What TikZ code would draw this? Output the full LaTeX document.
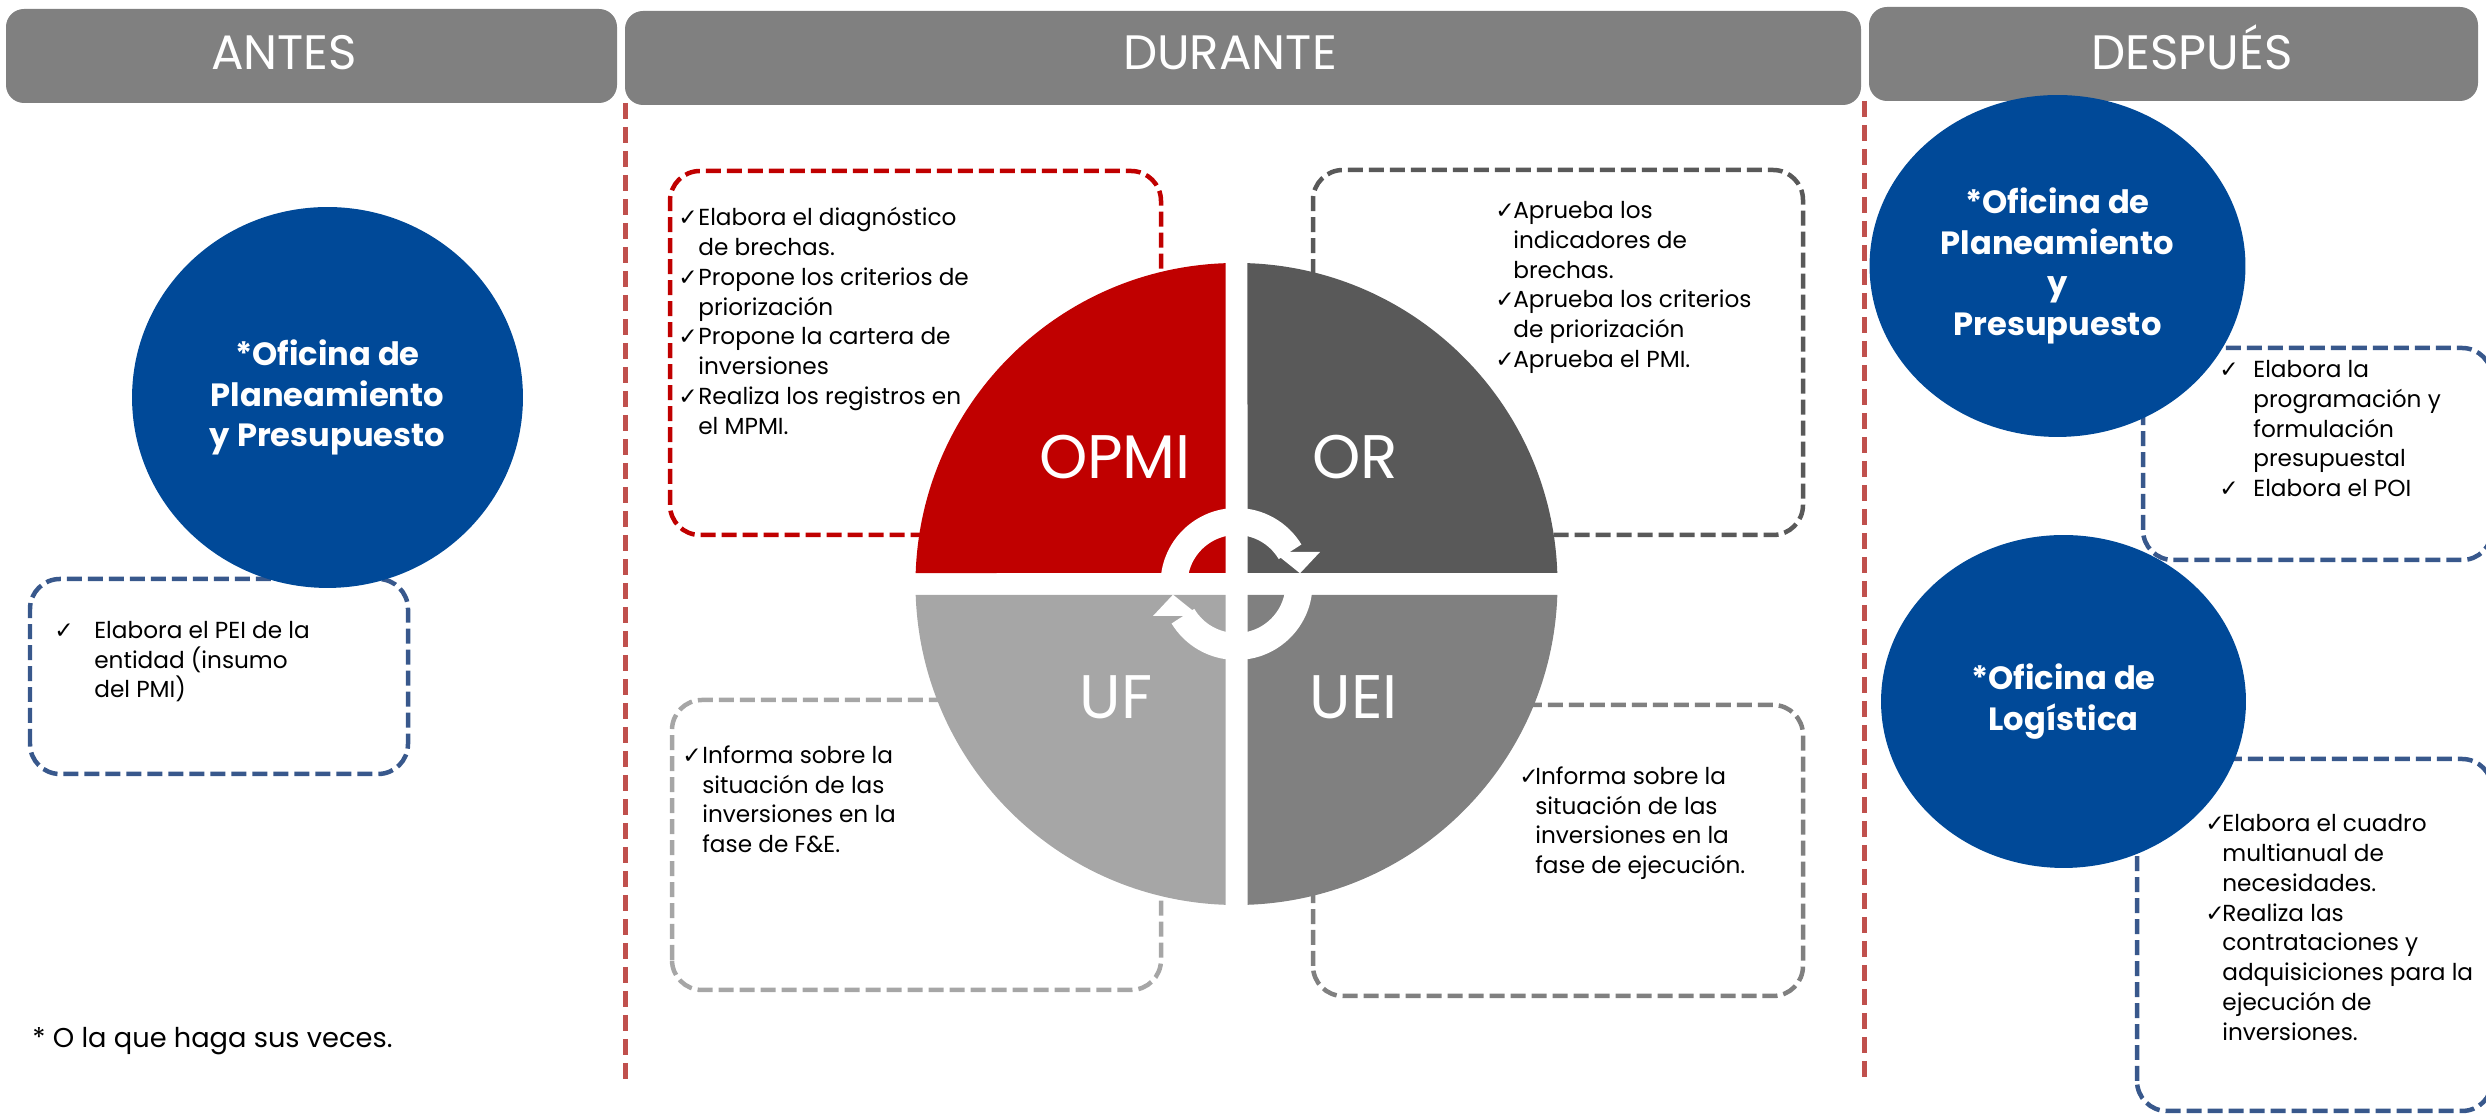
\documentclass[tikz,border=0pt]{standalone}
\usepackage{fontspec}
\setmainfont{Poppins}
\newfontfamily\symf{DejaVu Sans}
\usetikzlibrary{shapes.geometric}

\definecolor{hdgray}{RGB}{128,128,128}
\definecolor{phasered}{RGB}{192,80,77}
\definecolor{offblue}{RGB}{0,73,152}
\definecolor{boxblue}{RGB}{56,88,140}
\definecolor{opmired}{RGB}{192,0,0}
\definecolor{ordark}{RGB}{89,89,89}
\definecolor{uflight}{RGB}{166,166,166}
\definecolor{ueigray}{RGB}{128,128,128}

\newcommand{\chk}[1][0.4cm]{\leavevmode\llap{\makebox[#1][l]{\symf ✓}}}

\tikzset{
  header/.style={fill=hdgray, rounded corners=0.36cm},
  headtext/.style={text=white, anchor=base, inner sep=0pt, font=\fontsize{27.5}{32}\selectfont},
  phase/.style={draw=phasered, line width=0.1cm, dash pattern=on 0.32cm off 0.16cm},
  office/.style={ellipse, fill=offblue, inner sep=0pt, text=white, align=center,
    font=\bfseries\fontsize{18.3}{23.2}\selectfont},
  taskbox/.style={line width=0.09cm, dash pattern=on 0.3cm off 0.12cm, rounded corners=0.6cm},
  % base of a multi-line node is its last line
  tasktext/.style={anchor=base west, align=left, inner sep=0pt, font=\fontsize{13.2}{16.95}\selectfont},
  quadtext/.style={text=white, anchor=base, inner sep=0pt, font=\fontsize{35}{40}\selectfont},
  ring/.style={draw=white, line width=0.54cm},
}

\begin{document}
\begin{tikzpicture}[x=0.02cm,y=0.02cm]

  \useasboundingbox (0,0) rectangle (2486,1114);
  \clip (0,0) rectangle (2486,1114);

  % header bars
  \fill[header] (6,1011) rectangle (617,1105);
  \fill[header] (625,1009) rectangle (1861,1103);
  \fill[header] (1869,1013) rectangle (2478,1107);
  \node[headtext] (antes) at (284,1044) {ANTES};
  \node[headtext] (durante) at (1230,1044) {DURANTE};
  \node[headtext] (despues) at (2192,1044) {DESPUÉS};

  % phase separators
  \draw[phase] (625,1011) -- (625,33);
  \draw[phase] (1864,1013) -- (1864,33);

  % task boxes
  \draw[taskbox, draw=boxblue] (30,340) rectangle (408,535);
  \draw[taskbox, draw=opmired] (670,579) rectangle (1161,943);
  \draw[taskbox, draw=ordark] (1313,579) rectangle (1803,944);
  \draw[taskbox, draw=uflight] (672,124) rectangle (1161,414);
  \draw[taskbox, draw=ueigray] (1313,118) rectangle (1803,409);
  \draw[taskbox, draw=boxblue] (2143,554) rectangle (2492,766);
  \draw[taskbox, draw=boxblue] (2137,3) rectangle (2492,355);

  % task texts
  \node[tasktext] (tantes) at (94,416.2) {\chk[0.8cm]Elabora el PEI de la\\entidad (insumo\\del PMI)};
  \node[tasktext] (topmi) at (698,679.7) {\chk Elabora el diagnóstico\\de brechas.\\\chk Propone los criterios de\\priorización\\\chk Propone la cartera de\\inversiones\\\chk Realiza los registros en\\el MPMI.};
  \node[tasktext] (tor) at (1513,746.5) {\chk[0.36cm]Aprueba los\\indicadores de\\brechas.\\\chk[0.36cm]Aprueba los criterios\\de priorización\\\chk[0.36cm]Aprueba el PMI.};
  \node[tasktext] (tuf) at (702,261.3) {\chk Informa sobre la\\situación de las\\inversiones en la\\fase de F\&E.};
  \node[tasktext] (tuei) at (1535,240.3) {\chk[0.32cm]Informa sobre la\\situación de las\\inversiones en la\\fase de ejecución.};
  \node[tasktext] (tpres) at (2253,617.4) {\chk[0.68cm]Elabora la\\programación y\\formulación\\presupuestal\\\chk[0.68cm]Elabora el POI};
  \node[tasktext] (tlog) at (2222,73.7) {\chk[0.34cm]Elabora el cuadro\\multianual de\\necesidades.\\\chk[0.34cm]Realiza las\\contrataciones y\\adquisiciones para la\\ejecución de\\inversiones.};

  % offices
  \node[office, minimum width=7.82cm, minimum height=7.62cm] (ppantes) at (327.5,716.5) {*Oficina de\\Planeamiento\\y Presupuesto};
  \node[office, minimum width=7.52cm, minimum height=6.84cm] (ppdespues) at (2057.5,848) {*Oficina de\\Planeamiento\\y\\Presupuesto};
  \node[office, minimum width=7.3cm, minimum height=6.66cm] (logistica) at (2063.5,412.5) {*Oficina de\\Logística};

  % quadrants
  \fill[opmired] (1225.5,541) -- (1225.5,850.81) arc[start angle=91.96, end angle=178.04, radius=321] -- cycle;
  \fill[ordark] (1247.5,541) -- (1557.31,541) arc[start angle=1.96, end angle=88.04, radius=321] -- cycle;
  \fill[uflight] (1225.5,519) -- (915.69,519) arc[start angle=181.96, end angle=268.04, radius=321] -- cycle;
  \fill[ueigray] (1247.5,519) -- (1247.5,209.19) arc[start angle=271.96, end angle=358.04, radius=321] -- cycle;

  % cycle arrows
  \draw[ring] (1174,530) arc[start angle=180, end angle=31, radius=62.5];
  \fill[white] (1273.5,562) -- (1320,562) -- (1300,540.7) -- cycle;
  \draw[ring] (1299,530) arc[start angle=0, end angle=-149, radius=62.5];
  \fill[white] (1199.5,498) -- (1153,498) -- (1173,519.3) -- cycle;

  \node[quadtext] (opmi) at (1115,635) {OPMI};
  \node[quadtext] (or) at (1355,635) {OR};
  \node[quadtext] (uf) at (1116,395) {UF};
  \node[quadtext] (uei) at (1354,395) {UEI};

  % footnote
  \node[anchor=base west, inner sep=0pt, font=\fontsize{15.5}{18}\selectfont] (nota) at (32,66) {* O la que haga sus veces.};

\end{tikzpicture}
\end{document}
